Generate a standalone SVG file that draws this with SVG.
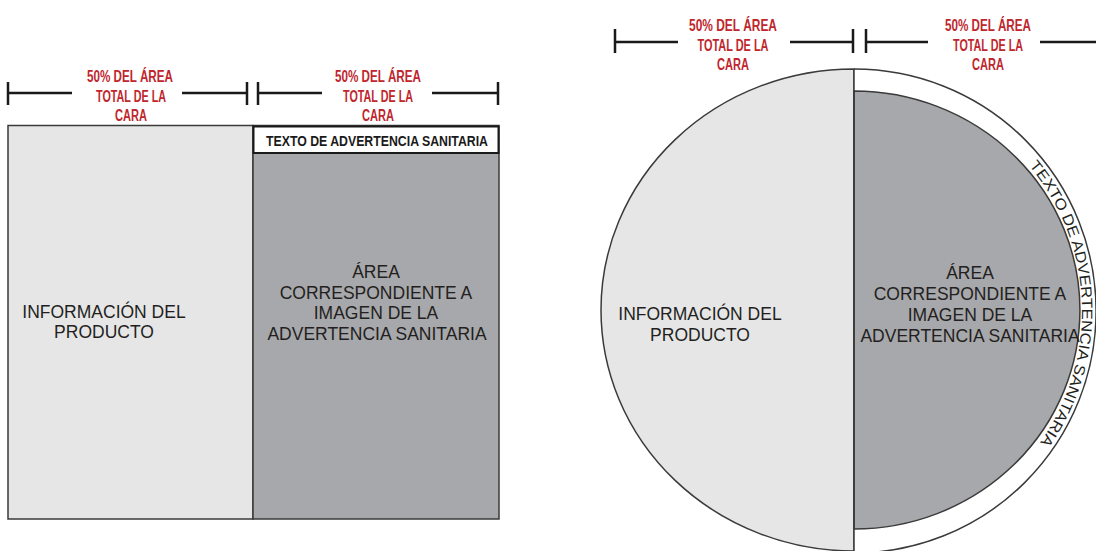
<svg xmlns="http://www.w3.org/2000/svg" width="1096" height="551" viewBox="0 0 1096 551">
<defs>
<style>
.dim{stroke:#1a1a1a;stroke-width:2.5;fill:none}
.lbl{font-family:"Liberation Sans",Arial,sans-serif;font-weight:bold;font-size:16.5px;fill:#c0262d;text-anchor:middle}
.body{font-family:"Liberation Sans",Arial,sans-serif;font-size:17.5px;fill:#231f20;text-anchor:middle}
.edge{stroke:#3a3a3a;stroke-width:1.5}
.light{fill:#e6e6e7}
.dark{fill:#a7a8ab}
</style>
<path id="ringPath" d="M1029.1,165.7 A226,226 0 0 1 1036.5,447"/>
</defs>
<rect width="1096" height="551" fill="#ffffff"/>

<g id="connectors">
  <path class="dim" d="M8,93 H72 M182,93 H247 M8,82 V105 M247,82 V105"/>
  <path class="dim" d="M258,93 H322 M432,93 H498 M258,82 V105 M498,82 V105"/>
  <path class="dim" d="M615,42 H678 M790,42 H853 M615,29 V53 M853,29 V53"/>
  <path class="dim" d="M866,42 H928 M1040,42 H1100 M866,29 V53"/>
</g>

<g id="label-left-1">
  <text class="lbl" x="130" y="82" textLength="86" lengthAdjust="spacingAndGlyphs">50% DEL ÁREA</text>
  <text class="lbl" x="131" y="102" textLength="70" lengthAdjust="spacingAndGlyphs">TOTAL DE LA</text>
  <text class="lbl" x="131" y="121" textLength="32" lengthAdjust="spacingAndGlyphs">CARA</text>
</g>
<g id="label-left-2">
  <text class="lbl" x="378" y="82" textLength="86" lengthAdjust="spacingAndGlyphs">50% DEL ÁREA</text>
  <text class="lbl" x="378" y="102" textLength="70" lengthAdjust="spacingAndGlyphs">TOTAL DE LA</text>
  <text class="lbl" x="378" y="121" textLength="32" lengthAdjust="spacingAndGlyphs">CARA</text>
</g>
<g id="label-right-1">
  <text class="lbl" x="733" y="31" textLength="88" lengthAdjust="spacingAndGlyphs">50% DEL ÁREA</text>
  <text class="lbl" x="733" y="50.5" textLength="71" lengthAdjust="spacingAndGlyphs">TOTAL DE LA</text>
  <text class="lbl" x="733" y="70" textLength="32" lengthAdjust="spacingAndGlyphs">CARA</text>
</g>
<g id="label-right-2">
  <text class="lbl" x="988" y="31" textLength="86" lengthAdjust="spacingAndGlyphs">50% DEL ÁREA</text>
  <text class="lbl" x="988" y="50.5" textLength="70" lengthAdjust="spacingAndGlyphs">TOTAL DE LA</text>
  <text class="lbl" x="988" y="70" textLength="32" lengthAdjust="spacingAndGlyphs">CARA</text>
</g>

<g id="rect-info">
  <rect class="light edge" x="8" y="125.5" width="245" height="393.5"/>
  <text class="body" x="104" y="318">INFORMACIÓN DEL</text>
  <text class="body" x="104" y="338">PRODUCTO</text>
</g>
<g id="rect-image">
  <rect class="dark edge" x="253" y="125.5" width="246" height="393.5"/>
  <text class="body" x="376" y="278">ÁREA</text>
  <text class="body" x="376" y="298.5">CORRESPONDIENTE A</text>
  <text class="body" x="376" y="319">IMAGEN DE LA</text>
  <text class="body" x="377" y="339.5">ADVERTENCIA SANITARIA</text>
</g>
<g id="rect-warning-text">
  <rect x="253.5" y="126.5" width="245" height="26.5" fill="#ffffff" stroke="#1a1a1a" stroke-width="2"/>
  <text x="377" y="145.5" font-family="'Liberation Sans',Arial,sans-serif" font-weight="bold" font-size="14" fill="#1a1a1a" text-anchor="middle" textLength="222" lengthAdjust="spacingAndGlyphs">TEXTO DE ADVERTENCIA SANITARIA</text>
</g>

<g id="circle-info">
  <path class="light edge" d="M854,69 A253,241 0 0 0 854,551 Z"/>
  <text class="body" x="700" y="320" font-size="17">INFORMACIÓN DEL</text>
  <text class="body" x="700" y="341" font-size="17">PRODUCTO</text>
</g>
<g id="circle-warning-text">
  <path d="M854,69 A242,242 0 1 1 854,553" fill="#ffffff" stroke="#3a3a3a" stroke-width="1.5"/>
  <text font-family="'Liberation Sans',Arial,sans-serif" font-size="15" fill="#231f20"><textPath href="#ringPath" textLength="298" lengthAdjust="spacingAndGlyphs">TEXTO DE ADVERTENCIA SANITARIA</textPath></text>
</g>
<g id="circle-image">
  <path class="dark edge" d="M854,91 A226,219 0 0 1 854,529 Z"/>
  <text class="body" x="970" y="279" font-size="16.8">ÁREA</text>
  <text class="body" x="970" y="300" font-size="16.8">CORRESPONDIENTE A</text>
  <text class="body" x="970" y="321" font-size="16.8">IMAGEN DE LA</text>
  <text class="body" x="970" y="342" font-size="16.8">ADVERTENCIA SANITARIA</text>
</g>
<line x1="854" y1="69" x2="854" y2="556" stroke="#3a3a3a" stroke-width="1.5"/>
</svg>
